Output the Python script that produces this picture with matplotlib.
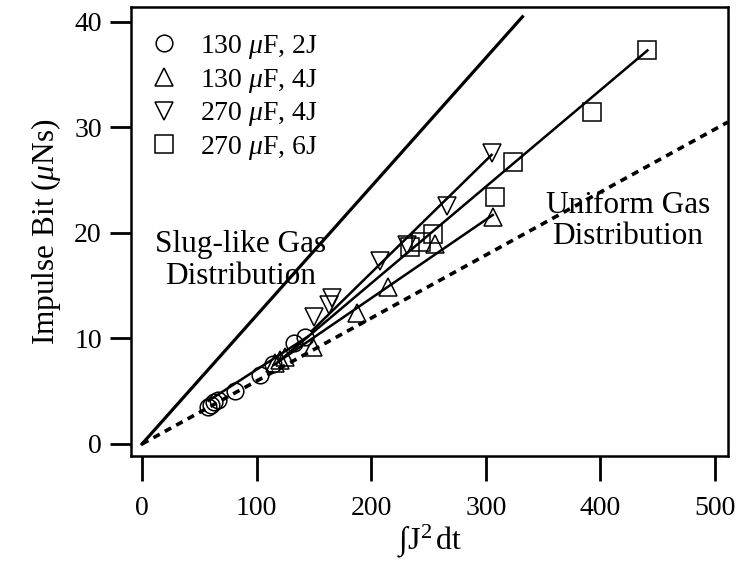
"""
Impulse bit vs integral of J^2 dt, with slug-like / uniform gas limits.
"""
import matplotlib
matplotlib.use("Agg")
import matplotlib.pyplot as plt

# ---- data ----
circ_x = [58, 60, 63, 66, 81, 103, 114, 133, 142]
circ_y = [3.5, 3.7, 4.0, 4.2, 5.0, 6.5, 7.6, 9.6, 10.1]

up_x = [116, 120, 125, 149, 188, 215, 256, 306]
up_y = [7.7, 8.0, 8.2, 9.2, 12.4, 14.9, 19.0, 21.5]

down_x = [150, 163, 166, 208, 231, 266, 305]
down_y = [12.0, 13.2, 13.8, 17.3, 18.9, 22.6, 27.6]

sq_x = [234, 243, 254, 308, 324, 393, 441]
sq_y = [18.7, 19.1, 19.9, 23.4, 26.7, 31.5, 37.3]

# fit lines (end points)
circ_fit_x, circ_fit_y = [58, 145], [4.1, 10.2]
up_fit_x, up_fit_y = [115, 306], [7.5, 21.7]
down_fit_x, down_fit_y = [148, 305], [10.7, 27.4]
sq_fit_x, sq_fit_y = [120, 441], [7.9, 37.3]

# limiting cases
slug_x, slug_y = [0, 332], [0, 40.5]
unif_x, unif_y = [0, 511], [0, 30.5]

labels = ["130 $\\mu$F, 2J", "130 $\\mu$F, 4J", "270 $\\mu$F, 4J", "270 $\\mu$F, 6J"]

plt.rcParams['font.family'] = ['Liberation Serif', 'DejaVu Serif']
plt.rcParams['mathtext.fontset'] = 'custom'
plt.rcParams['mathtext.rm'] = 'Liberation Serif'
plt.rcParams['mathtext.it'] = 'Liberation Serif:italic'

fig = plt.figure(figsize=(7.39, 5.64), dpi=100)
ax = fig.add_axes([0.1773, 0.1915, 0.8078, 0.7961])

lw_fit = 1.8
ax.plot(slug_x, slug_y, '-', color='black', lw=2.3)
ax.plot(unif_x, unif_y, color='black', lw=2.6, linestyle=(0, (2.0, 1.6)))
for fx, fy in [(circ_fit_x, circ_fit_y), (up_fit_x, up_fit_y),
               (down_fit_x, down_fit_y), (sq_fit_x, sq_fit_y)]:
    ax.plot(fx, fy, '-', color='black', lw=lw_fit)

mk = dict(linestyle='none', markerfacecolor='none', markeredgecolor='black', markeredgewidth=1.1)
ax.plot(circ_x, circ_y, marker='o', markersize=12, label=labels[0], **mk)
ax.plot(up_x, up_y, marker='^', markersize=13, label=labels[1], **mk)
ax.plot(down_x, down_y, marker='v', markersize=13, label=labels[2], **mk)
ax.plot(sq_x, sq_y, marker='s', markersize=13, label=labels[3], **mk)

ax.text(86, 17.4, "Slug-like Gas\nDistribution", ha='center', va='center',
        fontsize=22.5, linespacing=1.1)
ax.text(424, 21.1, "Uniform Gas\nDistribution", ha='center', va='center',
        fontsize=22.5, linespacing=1.1)

ax.set_xlim(-9.6, 511.3)
ax.set_ylim(-1.14, 41.42)
ax.set_xticks([0, 100, 200, 300, 400, 500])
ax.set_yticks([0, 10, 20, 30, 40])
ax.tick_params(axis='both', direction='out', width=2, labelsize=20)
ax.tick_params(axis='x', length=18, pad=11)
ax.tick_params(axis='y', length=15, pad=6)
for s in ax.spines.values():
    s.set_linewidth(1.8)

ax.set_xlabel("$\\int\\mathrm{J}^2\\,\\mathrm{dt}$", fontsize=23, labelpad=1)
ax.set_ylabel("Impulse Bit ($\\mu$Ns)", fontsize=22.5, labelpad=8)

leg = ax.legend(loc='upper left', frameon=False, fontsize=20, handlelength=1.0,
                handletextpad=0.8, labelspacing=0.2, borderaxespad=0.3,
                bbox_to_anchor=(0.0, 0.985))

fig.savefig("out.png", dpi=100)
